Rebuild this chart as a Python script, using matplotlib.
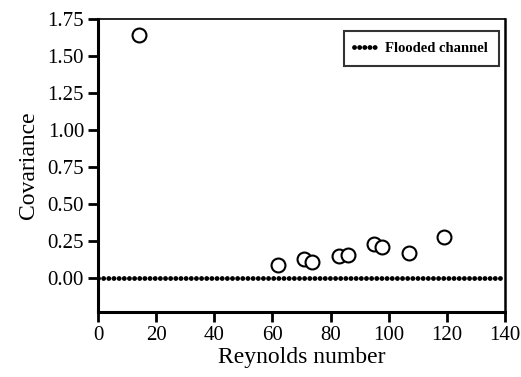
import matplotlib
matplotlib.use("Agg")
import matplotlib.pyplot as plt
import numpy as np

# Data
reynolds = [14, 62, 71, 73.7, 83, 86, 95, 97.7, 107, 119]
covariance = [1.645, 0.087, 0.124, 0.108, 0.149, 0.154, 0.228, 0.21, 0.169, 0.273]
flooded_x = [0, 138.5]
flooded_y = [0, 0]

plt.rcParams['font.family'] = ['Liberation Serif', 'DejaVu Serif']

fig = plt.figure(figsize=(5.21, 3.77), dpi=100)
ax = fig.add_axes([98/521, 1-311.7/377, (505-98)/521, (311.7-19)/377])

ax.plot(flooded_x, flooded_y, color='black', lw=3.5,
        linestyle=(0, (0.01, 1.05)), dash_capstyle='round',
        label='Flooded channel', zorder=2)
ax.plot(reynolds, covariance, linestyle='none', marker='o', ms=10,
        mfc='white', mec='black', mew=1.5, zorder=3)

ax.set_xlim(0, 140)
ax.set_ylim(-0.23, 1.75)
ax.set_xticks(np.arange(0, 141, 20))
ax.set_yticks([0, 0.25, 0.5, 0.75, 1.0, 1.25, 1.5, 1.75])
ax.set_yticklabels(['0.00', '0.25', '0.50', '0.75', '1.00', '1.25', '1.50', '1.75'])
ax.tick_params(axis='both', direction='out', length=7, width=2, labelsize=15, pad=3)

for s in ['left', 'bottom']:
    ax.spines[s].set_linewidth(2.2)
ax.spines['right'].set_linewidth(1.8)
ax.spines['top'].set_linewidth(1.2)

ax.set_xlabel('Reynolds number', fontsize=17, labelpad=2)
ax.set_ylabel('Covariance', fontsize=17, labelpad=6)

leg = ax.legend(loc='upper right', fontsize=10.5, frameon=True, fancybox=False,
                edgecolor='black', handlelength=1.5, handletextpad=0.6,
                borderpad=0.75, borderaxespad=0, bbox_to_anchor=(0.985, 0.96))
leg.get_frame().set_linewidth(1.5)
for t in leg.get_texts():
    t.set_fontweight('bold')

fig.savefig('out.png', dpi=100)
